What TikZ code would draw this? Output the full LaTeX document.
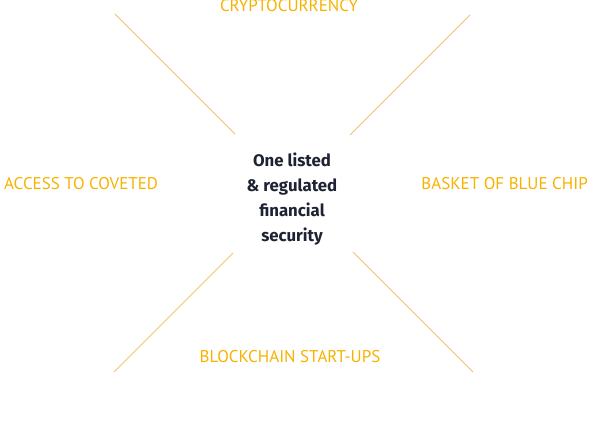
\documentclass[tikz,border=0pt]{standalone}
\usepackage{fontspec}
\setmainfont{PT Sans}
\newfontfamily\corefont{Fira Sans}
\usetikzlibrary{positioning}
\definecolor{FundGold}{HTML}{F7B200}
\definecolor{FundLine}{HTML}{EBC571}
\definecolor{FundInk}{HTML}{1E2233}

\begin{document}
\begin{tikzpicture}[x=1pt,y=-1pt,
      pillar/.style={text=FundGold,inner sep=0pt,
        font=\fontsize{17}{19}\selectfont},
      core/.style={text=FundInk,align=center,inner sep=0pt,
        font=\corefont\bfseries\fontsize{16.8}{25}\selectfont},
      spoke/.style={draw=FundLine,line width=0.8pt}
    ]
      \useasboundingbox (0,0) rectangle (590,438);
      \node[core] (c) at (292,199) {One listed\\\& regulated\\financial\\security};
      % four spokes round the security
      \coordinate (nwa) at (115,14);  \coordinate (nwb) at (235,134);
      \coordinate (nea) at (470,15);  \coordinate (neb) at (350,135);
      \coordinate (swa) at (233,253); \coordinate (swb) at (114,372);
      \coordinate (sea) at (353,252); \coordinate (seb) at (473,372);
      \draw[spoke] (nwa) -- (nwb);
      \draw[spoke] (nea) -- (neb);
      \draw[spoke] (swa) -- (swb);
      \draw[spoke] (sea) -- (seb);
      \node[pillar] (crypto) at (289,6) {CRYPTOCURRENCY};
      \node[pillar,anchor=west] (access) at (4,184) {ACCESS TO COVETED};
      \node[pillar,anchor=east] (basket) at (588,184) {BASKET OF BLUE CHIP};
      \node[pillar] (block) at (290,357) {BLOCKCHAIN START-UPS};
    \end{tikzpicture}
\end{document}
